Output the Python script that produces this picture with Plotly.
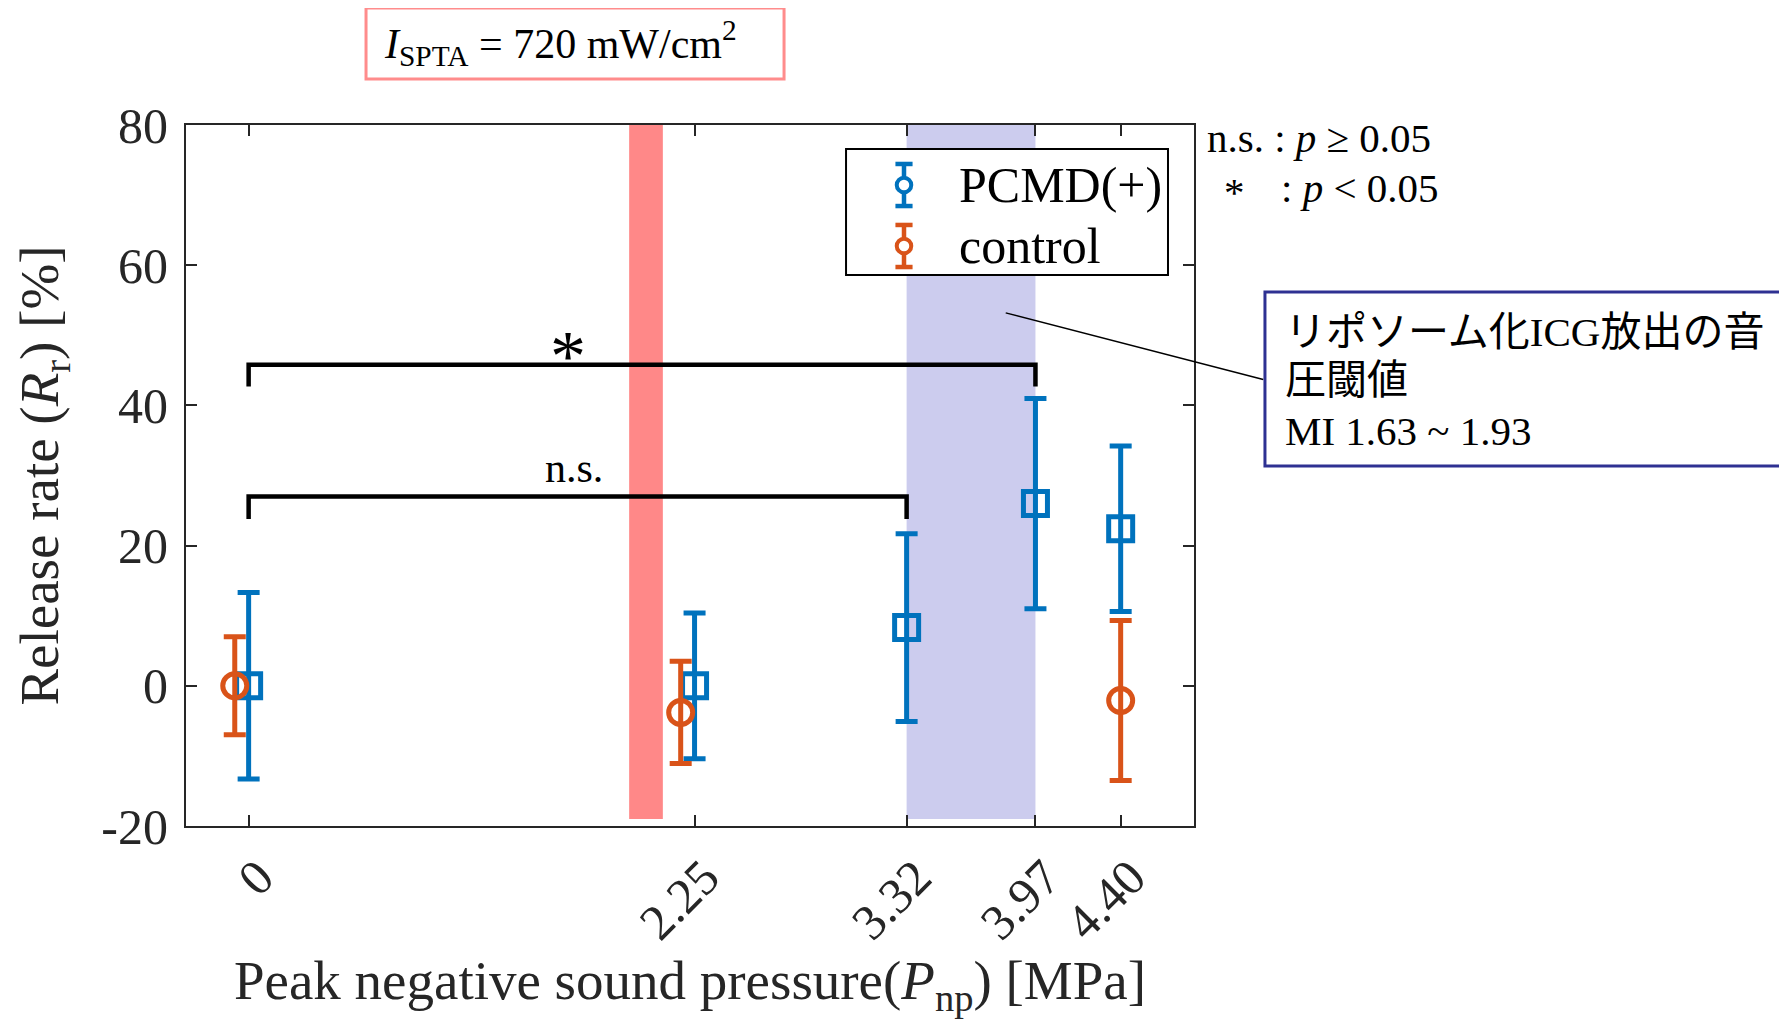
import plotly.graph_objects as go

# ---- data ----
pressure = [0, 2.25, 3.32, 3.97, 4.40]
tick_labels = ["0", "2.25", "3.32", "3.97", "4.40"]
pcmd_mean = [0.0, 0.0, 8.3, 26.0, 22.4]
pcmd_err = [13.3, 10.4, 13.4, 15.0, 11.8]
control_x = [-0.07, 2.18, 4.40]
control_mean = [0.0, -3.8, -2.1]
control_err = [7.0, 7.3, 11.4]
red_band = [1.92, 2.09]
blue_band = [3.32, 3.97]
band_bottom = -19
bracket_star = [0, 3.97, 45.8, 42.7]
bracket_ns = [0, 3.32, 27.0, 23.8]
y_ticks = [-20, 0, 20, 40, 60, 80]
y_tick_labels = ["-20", "0", "20", "40", "60", "80"]

BLUE = "#0072BD"
ORANGE = "#D95319"
FONT = "Liberation Serif, Noto Sans CJK JP, serif"
AX = "#262626"

fig = go.Figure()

# brackets
for x0, x1, ytop, yleg in (bracket_star, bracket_ns):
    fig.add_trace(go.Scatter(x=[x0, x0, x1, x1], y=[yleg, ytop, ytop, yleg],
                             mode="lines", line=dict(color="black", width=4.5),
                             showlegend=False, hoverinfo="skip"))

fig.add_trace(go.Scatter(
    x=pressure, y=pcmd_mean, mode="markers", name="PCMD(+)", showlegend=False,
    marker=dict(symbol="square-open", size=24, color=BLUE, line=dict(width=5, color=BLUE)),
    error_y=dict(type="data", array=pcmd_err, visible=True, color=BLUE, thickness=5, width=11),
))
fig.add_trace(go.Scatter(
    x=control_x, y=control_mean, mode="markers", name="control", showlegend=False,
    marker=dict(symbol="circle-open", size=24, color=ORANGE, line=dict(width=5, color=ORANGE)),
    error_y=dict(type="data", array=control_err, visible=True, color=ORANGE, thickness=5, width=11),
))

# threshold bands
fig.add_shape(type="rect", xref="x", yref="y", x0=red_band[0], x1=red_band[1],
              y0=band_bottom, y1=80, fillcolor="rgb(255,136,136)", line_width=0, layer="below")
fig.add_shape(type="rect", xref="x", yref="y", x0=blue_band[0], x1=blue_band[1],
              y0=band_bottom, y1=80, fillcolor="rgb(204,204,238)", line_width=0, layer="below")

# significance labels
fig.add_annotation(x=1.61, y=47.0, xref="x", yref="y", text="*", showarrow=False,
                   font=dict(family=FONT, size=72, color="black"), yanchor="middle")
fig.add_annotation(x=1.64, y=31.0, xref="x", yref="y", text="n.s.", showarrow=False,
                   font=dict(family=FONT, size=42, color="black"))

# custom legend (box, glyphs, labels)
fig.add_shape(type="rect", xref="paper", yref="paper", x0=0.6548, x1=0.9742, y0=0.786, y1=0.9658,
              line=dict(color="black", width=2), fillcolor="white")
for name, color, yc in (("PCMD(+)", BLUE, 0.9144), ("control", ORANGE, 0.8274)):
    gx, hl, cw = 0.7123, 0.030, 0.0085
    fig.add_shape(type="line", xref="paper", yref="paper", x0=gx, x1=gx, y0=yc - hl, y1=yc + hl,
                  line=dict(color=color, width=4.5))
    for yy in (yc - hl, yc + hl):
        fig.add_shape(type="line", xref="paper", yref="paper", x0=gx - cw, x1=gx + cw, y0=yy, y1=yy,
                      line=dict(color=color, width=4.5))
    fig.add_shape(type="circle", xref="paper", yref="paper", x0=gx - 0.0072, x1=gx + 0.0072,
                  y0=yc - 0.0105, y1=yc + 0.0105, line=dict(color=color, width=4), fillcolor="white")
    fig.add_annotation(x=0.765, y=yc, xref="paper", yref="paper", xanchor="left", yanchor="middle",
                       text=name, showarrow=False, font=dict(family=FONT, size=50, color="black"))

# title box
fig.add_shape(type="rect", xref="paper", yref="paper", x0=0.1786, x1=0.5933, y0=1.0656, y1=1.1669,
              line=dict(color="rgb(255,140,140)", width=3), fillcolor="white")
fig.add_annotation(x=0.1945, y=1.117, xref="paper", yref="paper", xanchor="left", yanchor="middle",
                   text="<i>I</i><sub>SPTA</sub> = 720 mW/cm<sup>2</sup>", showarrow=False,
                   font=dict(family=FONT, size=42, color="black"))

# p-value legend
fig.add_annotation(x=1.011, y=0.9815, xref="paper", yref="paper", xanchor="left", yanchor="middle",
                   text="n.s. : <i>p</i> ≥ 0.05", showarrow=False,
                   font=dict(family=FONT, size=41, color="black"))
fig.add_annotation(x=1.040, y=0.905, xref="paper", yref="paper", xanchor="center", yanchor="middle",
                   text="*", showarrow=False, font=dict(family=FONT, size=41, color="black"))
fig.add_annotation(x=1.084, y=0.910, xref="paper", yref="paper", xanchor="left", yanchor="middle",
                   text=": <i>p</i> < 0.05", showarrow=False,
                   font=dict(family=FONT, size=41, color="black"))

# MI threshold callout
fig.add_shape(type="rect", xref="paper", yref="paper", x0=1.0704, x1=1.5823, y0=0.5136, y1=0.7618,
              line=dict(color="rgb(46,49,146)", width=3), fillcolor="white")
fig.add_annotation(x=3.82, y=53.2, xref="x", yref="y", ax=259, ay=67, axref="pixel", ayref="pixel",
                   text="", showarrow=True, arrowhead=0, arrowwidth=1.5, arrowcolor="black")
for txt, yy in (("リポソーム化ICG放出の音", 0.7047), ("圧閾値", 0.6362), ("MI 1.63 ~ 1.93", 0.5635)):
    fig.add_annotation(x=1.0883, y=yy, xref="paper", yref="paper", xanchor="left", yanchor="middle",
                       text=txt, showarrow=False, font=dict(family=FONT, size=41, color="black"))

fig.update_layout(
    width=1779, height=1026,
    margin=dict(l=178, r=593, t=117, b=208, autoexpand=False),
    plot_bgcolor="white", paper_bgcolor="white",
    font=dict(family=FONT, color=AX),
    showlegend=False,
    xaxis=dict(range=[-0.316, 4.77], tickmode="array", tickvals=pressure, ticktext=tick_labels,
               tickangle=-45, ticks="inside", ticklen=11, tickwidth=1.5, tickcolor=AX,
               showline=True, linecolor=AX, linewidth=2, mirror="ticks", showgrid=False,
               zeroline=False, tickfont=dict(family=FONT, size=50, color=AX),
               ticklabelstandoff=0, ticklabelshift=10,
               title=dict(text="Peak negative sound pressure(<i>P</i><sub>np</sub>) [MPa]",
                          font=dict(family=FONT, size=55, color=AX), standoff=11)),
    yaxis=dict(range=[-20, 80], tickmode="array", tickvals=y_ticks, ticktext=y_tick_labels,
               ticks="inside", ticklen=11, tickwidth=1.5, tickcolor=AX,
               showline=True, linecolor=AX, linewidth=2, mirror="ticks", showgrid=False,
               zeroline=False, tickfont=dict(family=FONT, size=50, color=AX), ticklabelstandoff=6,
               title=dict(text="Release rate (<i>R</i><sub>r</sub>) [%]",
                          font=dict(family=FONT, size=55, color=AX), standoff=25)),
)

fig.write_html("out.html")
